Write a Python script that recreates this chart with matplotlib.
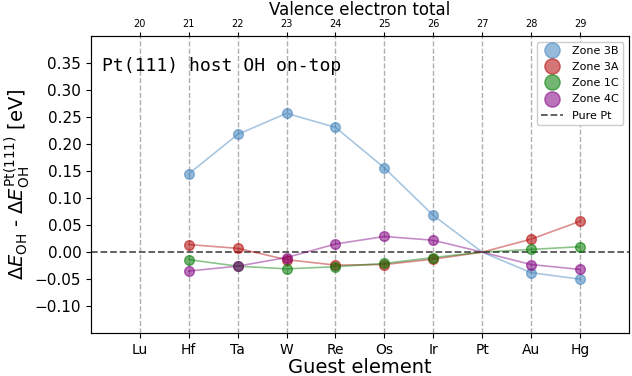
import matplotlib as mpl
mpl.use('Agg')
import matplotlib.pyplot as plt
from matplotlib.lines import Line2D
import numpy as np

elements = ['Lu', 'Hf', 'Ta', 'W', 'Re', 'Os', 'Ir', 'Pt', 'Au', 'Hg']
valence = [20, 21, 22, 23, 24, 25, 26, 27, 28, 29]

# guest elements with data (Pt is the host -> zero, no marker)
guests = ['Hf', 'Ta', 'W', 'Re', 'Os', 'Ir', 'Pt', 'Au', 'Hg']
zone_3B = [0.145, 0.218, 0.257, 0.231, 0.156, 0.068, 0.0, -0.038, -0.050]
zone_3A = [0.014, 0.007, -0.014, -0.024, -0.023, -0.013, 0.0, 0.024, 0.057]
zone_1C = [-0.014, -0.026, -0.031, -0.027, -0.021, -0.010, 0.0, 0.005, 0.010]
zone_4C = [-0.035, -0.026, -0.010, 0.015, 0.029, 0.022, 0.0, -0.023, -0.032]
yticks = [-0.10, -0.05, 0.00, 0.05, 0.10, 0.15, 0.20, 0.25, 0.30, 0.35]

series = [('Zone 3B', zone_3B, '#3f82bc'),
          ('Zone 3A', zone_3A, '#b40505'),
          ('Zone 1C', zone_1C, '#007a00'),
          ('Zone 4C', zone_4C, '#820082')]

fig = plt.figure(figsize=(6.32, 3.76), dpi=100)
ax = fig.add_axes([0.144, 0.114, 0.851, 0.79])

xpos = {e: i for i, e in enumerate(elements)}
gx = np.array([xpos[g] for g in guests])
mask = np.array([g != 'Pt' for g in guests])

for label, vals, c in series:
    vals = np.array(vals)
    ax.plot(gx, vals, '-', color=c, alpha=0.45, lw=1.2, zorder=3)
    ax.plot(gx[mask], vals[mask], 'o', color=c, alpha=0.55, ms=7, mec=c, zorder=4)

ax.axhline(0, ls='--', color='#555555', lw=1.3, zorder=2)

ax.set_xlim(-1, 10)
ax.set_ylim(-0.15, 0.40)
ax.set_xticks(range(len(elements)))
ax.set_xticklabels(elements, fontsize=10)
ax.set_yticks(yticks)
ax.set_yticklabels([('%.2f' % v).replace('-', '\u2212') for v in yticks])
ax.tick_params(axis='y', labelsize=11)
ax.xaxis.grid(True, ls='--', color='#b0b0b0', lw=1.0)
for s in ax.spines.values():
    s.set_color('#555555')

ax.set_xlabel('Guest element', fontsize=14, labelpad=1)
ax.set_ylabel(r'$\Delta E_{\mathrm{OH}}$ - $\Delta E_{\mathrm{OH}}^{\mathrm{Pt(111)}}$ [eV]',
              fontsize=14, labelpad=2)

top = ax.twiny()
top.set_xlim(ax.get_xlim())
top.set_xticks(range(len(valence)))
top.set_xticklabels([str(v) for v in valence], fontsize=7)
top.set_xlabel('Valence electron total', fontsize=12, labelpad=3)
top.tick_params(axis='x', length=3, pad=2)

ax.text(0.02, 0.93, 'Pt(111) host OH on-top', transform=ax.transAxes,
        family='DejaVu Sans Mono', fontsize=13, va='top')

handles = [Line2D([], [], ls='none', marker='o', color=c, alpha=0.55, ms=11, label=l)
           for l, _, c in series]
handles.append(Line2D([], [], ls='--', color='#555555', lw=1.3, label='Pure Pt'))
ax.legend(handles=handles, loc='upper right', fontsize=8, framealpha=1,
          handletextpad=0.8, labelspacing=0.55)

fig.savefig('out.png', dpi=100)
